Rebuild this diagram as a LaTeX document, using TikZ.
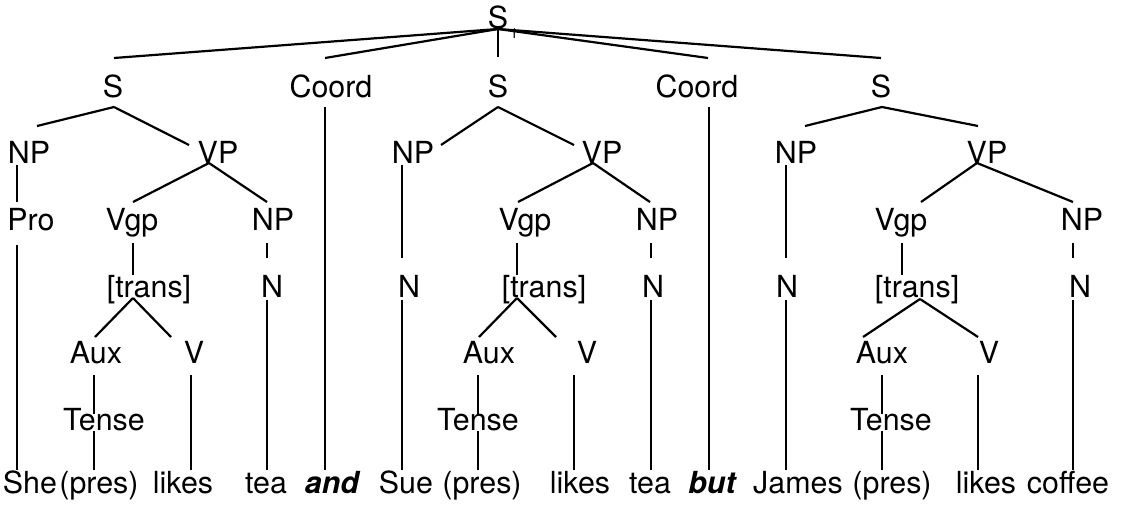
\documentclass[tikz,border=0pt]{standalone}
\usepackage{fontspec}
\setmainfont{TeX Gyre Heros}
\newcommand{\lblfont}{\fontsize{15.2}{18}\selectfont}
\newcommand{\subfnt}{\fontsize{7}{8}\selectfont}
\tikzset{
  lbl/.style={anchor=base, inner sep=0pt, font=\lblfont},
  wrd/.style={anchor=base, inner sep=0pt, font=\lblfont},
  cnj/.style={anchor=base, inner sep=0pt, font=\lblfont\bfseries\itshape},
  br/.style={line width=1.1pt, line cap=butt}
}
\begin{document}
\begin{tikzpicture}[x=0.5pt,y=-0.5pt]
\useasboundingbox (0,0) rectangle (1123,504);
% ---------- labels ----------
\node[lbl] (top) at (498,28) {S};
\node[lbl,font=\subfnt] (topsub) at (514,38) {1};
% row 1
\node[lbl] (s1) at (113,97) {S};
\node[lbl] (c1) at (331,97) {Coord};
\node[lbl] (s2) at (498,97) {S};
\node[lbl] (c2) at (697,97) {Coord};
\node[lbl] (s3) at (881,97) {S};
% row 2
\node[lbl] (np1) at (29,163) {NP};
\node[lbl] (vp1) at (218,163) {VP};
\node[lbl] (np2) at (413,163) {NP};
\node[lbl] (vp2) at (602,163) {VP};
\node[lbl] (np3) at (796,163) {NP};
\node[lbl] (vp3) at (987,163) {VP};
% row 3
\node[lbl] (pro1) at (31,230) {Pro};
\node[lbl] (vgp1) at (132,230) {Vgp};
\node[lbl] (npo1) at (273,230) {NP};
\node[lbl] (vgp2) at (525,230) {Vgp};
\node[lbl] (npo2) at (657,230) {NP};
\node[lbl] (vgp3) at (901,230) {Vgp};
\node[lbl] (npo3) at (1082,230) {NP};
% row 4
\node[lbl] (tr1) at (149,297) {[trans]};
\node[lbl] (no1) at (272,297) {N};
\node[lbl] (ns2) at (409,297) {N};
\node[lbl] (tr2) at (544,297) {[trans]};
\node[lbl] (no2) at (653,297) {N};
\node[lbl] (ns3) at (787,297) {N};
\node[lbl] (tr3) at (917,297) {[trans]};
\node[lbl] (no3) at (1080,297) {N};
% row 5
\node[lbl] (aux1) at (96,363) {Aux};
\node[lbl] (v1) at (194,363) {V};
\node[lbl] (aux2) at (489,363) {Aux};
\node[lbl] (v2) at (587,363) {V};
\node[lbl] (aux3) at (882,363) {Aux};
\node[lbl] (v3) at (989,363) {V};
% row 6
\node[lbl] (t1) at (104,430) {Tense};
\node[lbl] (t2) at (478,430) {Tense};
\node[lbl] (t3) at (891,430) {Tense};
% row 7 words
\node[wrd] (w1) at (30,493) {She};
\node[wrd] (w2) at (99,493) {(pres)};
\node[wrd] (w3) at (183,493) {likes};
\node[wrd] (w4) at (266,493) {tea};
\node[cnj] (w5) at (332,493) {and};
\node[wrd] (w6) at (406,493) {Sue};
\node[wrd] (w7) at (482,493) {(pres)};
\node[wrd] (w8) at (580,493) {likes};
\node[wrd] (w9) at (650,493) {tea};
\node[cnj] (w10) at (712,493) {but};
\node[wrd] (w11) at (798,493) {James};
\node[wrd] (w12) at (892,493) {(pres)};
\node[wrd] (w13) at (986,493) {likes};
\node[wrd] (w14) at (1068,493) {coffee};
% ---------- junction coordinates ----------
\coordinate (R) at (498,29);
\coordinate (s1t) at (114,58);
\coordinate (c1t) at (325,58);
\coordinate (s2t) at (498,57);
\coordinate (c2t) at (708,58);
\coordinate (s3t) at (881,58);
\coordinate (s1b) at (114,107);
\coordinate (s2b) at (498,107);
\coordinate (s3b) at (882,107);
\coordinate (np1t) at (37,126);
\coordinate (vp1t) at (189,145);
\coordinate (np2t) at (441,145);
\coordinate (vp2t) at (574,145);
\coordinate (np3t) at (805,126);
\coordinate (vp3t) at (978,126);
\coordinate (vp1b) at (209,163);
\coordinate (vp2b) at (593,163);
\coordinate (vp3b) at (977,163);
\coordinate (tr1b) at (133,298);
\coordinate (tr2b) at (517,298);
\coordinate (tr3b) at (920,299);
% ---------- connectors ----------
\draw[br] (R) -- (s1t);
\draw[br] (R) -- (c1t);
\draw[br] (R) -- (s2t);
\draw[br] (R) -- (c2t);
\draw[br] (R) -- (s3t);
% S -> NP VP
\draw[br] (s1b) -- (np1t);
\draw[br] (s1b) -- (vp1t);
\draw[br] (s2b) -- (np2t);
\draw[br] (s2b) -- (vp2t);
\draw[br] (s3b) -- (np3t);
\draw[br] (s3b) -- (vp3t);
% Coord -> and / but
\draw[br] (325,107) -- (325,470);
\draw[br] (709,107) -- (709,470);
% subject NPs
\draw[br] (17,165) -- (17,202);
\draw[br] (17,245) -- (17,470);
\draw[br] (402,165) -- (402,258);
\draw[br] (402,300) -- (402,470);
\draw[br] (786,165) -- (786,258);
\draw[br] (786,300) -- (786,470);
% VP -> Vgp NP
\draw[br] (vp1b) -- (133,202);
\draw[br] (vp1b) -- (267,202);
\draw[br] (vp2b) -- (518,202);
\draw[br] (vp2b) -- (650,202);
\draw[br] (vp3b) -- (921,202);
\draw[br] (vp3b) -- (1073,202);
% Vgp -> [trans]
\draw[br] (133,243) -- (133,275);
\draw[br] (517,243) -- (517,275);
\draw[br] (902,243) -- (902,275);
% object NP -> N -> word
\draw[br] (267,243) -- (267,258);
\draw[br] (267,300) -- (267,470);
\draw[br] (651,243) -- (651,258);
\draw[br] (651,300) -- (651,470);
\draw[br] (1073,243) -- (1073,258);
\draw[br] (1073,300) -- (1073,470);
% [trans] -> Aux V
\draw[br] (tr1b) -- (95,337);
\draw[br] (tr1b) -- (171,337);
\draw[br] (tr2b) -- (479,337);
\draw[br] (tr2b) -- (556,337);
\draw[br] (tr3b) -- (863,337);
\draw[br] (tr3b) -- (978,337);
% Aux -> Tense -> (pres)
\draw[br] (94,375) -- (94,414);
\draw[br] (94,431) -- (94,470);
\draw[br] (478,375) -- (478,414);
\draw[br] (478,431) -- (478,470);
\draw[br] (882,375) -- (882,414);
\draw[br] (882,431) -- (882,470);
% V -> likes
\draw[br] (191,375) -- (191,470);
\draw[br] (574,375) -- (574,470);
\draw[br] (978,375) -- (978,470);
\end{tikzpicture}
\end{document}
